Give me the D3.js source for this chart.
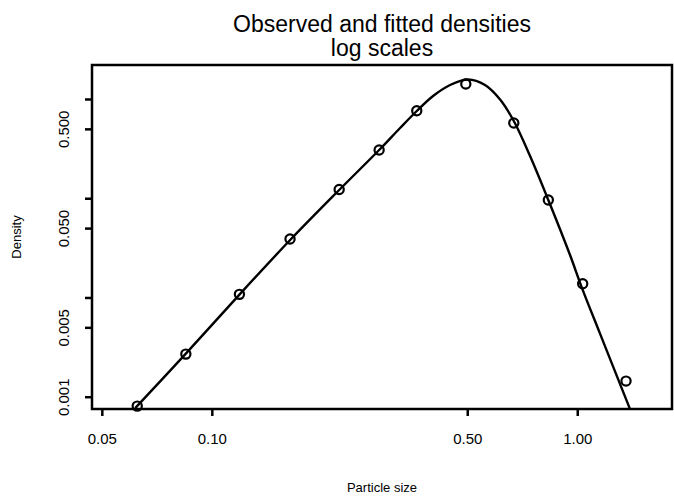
<!DOCTYPE html>
<html>
<head>
<meta charset="utf-8">
<script src="https://cdn.jsdelivr.net/npm/d3@7"></script>
<style>
  body { margin: 0; background: #fff; }
  text { font-family: "Liberation Sans", Arial, sans-serif; fill: #000; }
</style>
</head>
<body>
<svg id="chart" width="674" height="503"></svg>
<script>
// observed densities (binned particle sizes)
const obsSize = [0.0625, 0.0849, 0.1190, 0.1637, 0.2231, 0.2870, 0.3638, 0.4955, 0.6705, 0.8335, 1.035, 1.360];
const obsDensity = [0.000804, 0.002688, 0.01075, 0.03879, 0.1224, 0.3061, 0.7623, 1.416, 0.5732, 0.0959, 0.01374, 0.001437];

// fitted density
const fitSize = [0.0617, 0.0849, 0.1190, 0.1638, 0.2231, 0.2870, 0.3275, 0.3638, 0.4032, 0.4487, 0.5025, 0.5593, 0.6150, 0.6705, 0.7429, 0.8335, 0.9556, 1.0306, 1.1544, 1.392];
const fitDensity = [0.000767, 0.002720, 0.01069, 0.03790, 0.1210, 0.3061, 0.5101, 0.7568, 1.0720, 1.3839, 1.5729, 1.3839, 0.9885, 0.6002, 0.2663, 0.0959, 0.02676, 0.01244, 0.004326, 0.000762];

const xTicks = [0.05, 0.1, 0.5, 1];
const xTickLabels = ["0.05", "0.10", "0.50", "1.00"];
const yTicks = [0.001, 0.005, 0.01, 0.05, 0.1, 0.5, 1];
const yTickLabels = ["0.001", "0.005", "", "0.050", "", "0.500", ""];

const svg = d3.select("svg#chart");
const box = {left: 92, right: 672, top: 65, bottom: 409};

const x = d3.scaleLog().domain([0.047, 1.817]).range([box.left, box.right]);
const y = d3.scaleLog().domain([0.000752, 2.2]).range([box.bottom, box.top]);

// clip curve to the plot region
svg.append("clipPath").attr("id", "plotclip")
  .append("rect")
  .attr("x", box.left).attr("y", box.top)
  .attr("width", box.right - box.left).attr("height", box.bottom - box.top);

let lineGen = d3.line()
  .x((d, i) => x(fitSize[i]))
  .y((d, i) => y(fitDensity[i]))
  .curve(d3.curveCatmullRom.alpha(0.5));

svg.append("path")
  .attr("clip-path", "url(#plotclip)")
  .attr("d", lineGen(fitSize))
  .attr("fill", "none")
  .attr("stroke", "#000")
  .attr("stroke-width", 2.4);

svg.append("g").selectAll("circle").data(obsSize)
  .join("circle")
  .attr("cx", d => x(d))
  .attr("cy", (d, i) => y(obsDensity[i]))
  .attr("r", 4.6)
  .attr("fill", "none")
  .attr("stroke", "#000")
  .attr("stroke-width", 2.2);

// axes, ticks outside the box
let bottomAxis = d3.axisBottom(x).tickValues(xTicks)
  .tickFormat((d, i) => xTickLabels[i]).tickSize(7).tickPadding(17);
let leftAxis = d3.axisLeft(y).tickValues(yTicks)
  .tickFormat((d, i) => yTickLabels[i]).tickSize(7);

let gx = svg.append("g").attr("transform", `translate(0,${box.bottom})`).call(bottomAxis);
let gy = svg.append("g").attr("transform", `translate(${box.left},0)`).call(leftAxis);
[gx, gy].forEach(g => {
  g.select(".domain").remove();
  g.selectAll(".tick line").attr("stroke", "#000").attr("stroke-width", 2.5);
  g.selectAll(".tick text").attr("font-size", 15).attr("fill", "#000");
});
// y labels run vertically, as R draws them
gy.selectAll(".tick text")
  .attr("text-anchor", "middle")
  .attr("x", 0).attr("y", 0).attr("dy", "0.35em")
  .attr("transform", "translate(-28,0) rotate(-90)");

svg.append("rect")
  .attr("x", box.left).attr("y", box.top)
  .attr("width", box.right - box.left).attr("height", box.bottom - box.top)
  .attr("fill", "none").attr("stroke", "#000").attr("stroke-width", 2.5);

// titles
svg.append("text").attr("x", (box.left + box.right) / 2).attr("y", 32)
  .attr("text-anchor", "middle").attr("font-size", 23).text("Observed and fitted densities");
svg.append("text").attr("x", (box.left + box.right) / 2).attr("y", 56)
  .attr("text-anchor", "middle").attr("font-size", 23).text("log scales");
svg.append("text").attr("x", (box.left + box.right) / 2).attr("y", 492)
  .attr("text-anchor", "middle").attr("font-size", 13).text("Particle size");
svg.append("text")
  .attr("transform", `translate(21,${(box.top + box.bottom) / 2}) rotate(-90)`)
  .attr("text-anchor", "middle").attr("font-size", 13).text("Density");
</script>
</body>
</html>
